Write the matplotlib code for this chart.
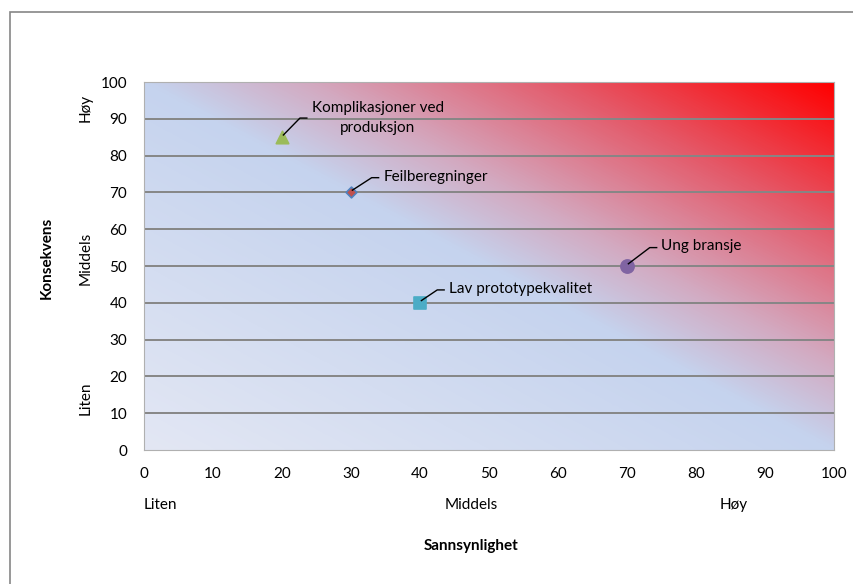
import numpy as np
import matplotlib.pyplot as plt
from matplotlib.colors import LinearSegmentedColormap
from matplotlib.patches import Rectangle

plt.rcParams['font.family'] = ['Lato', 'DejaVu Sans']

# risk data
risks = ["Komplikasjoner ved\nproduksjon", "Feilberegninger", "Lav prototypekvalitet", "Ung bransje"]
sannsynlighet = [20, 30, 40, 70]
konsekvens = [85, 70, 40, 50]
markers = ["^", "D", "s", "o"]
colors = ["#9bbb59", "#c0504d", "#4bacc6", "#8064a2"]
edges = ["#9bbb59", "#4f81bd", "#4bacc6", "#8064a2"]
sizes = [80, 30, 80, 90]
# label offsets (data units) for leader lines
label_dx = [3.6, 4.0, 3.5, 4.3]
label_dy = [5.2, 4.0, 3.5, 5.0]

ticks = list(range(0, 101, 10))
level_names = ["Liten", "Middels", "Høy"]

fig = plt.figure(figsize=(8.54, 5.84), dpi=100)
ax = fig.add_axes([144 / 854, 1 - 450 / 584, 690 / 854, 368 / 584])

# diagonal background gradient (blue -> red)
cmap = LinearSegmentedColormap.from_list(
    "risk", [(0.0, "#e3e7f4"), (0.5, "#c5d3ee"), (0.62, "#d3a9c0"),
             (0.8, "#e45a6a"), (1.0, "#ff0000")])
u, v = np.meshgrid(np.linspace(0, 1, 400), np.linspace(0, 1, 400))
ax.imshow((u + v) / 2, cmap=cmap, origin="lower", extent=[0, 100, 0, 100],
          aspect="auto", vmin=0, vmax=1, zorder=0)

ax.set_xlim(0, 100)
ax.set_ylim(0, 100)
for t in ticks[1:]:
    ax.axhline(t, color="#868686", lw=1.4, zorder=1)

for s in ax.spines.values():
    s.set_color("#b0b0b0")
    s.set_linewidth(0.8)

ax.set_xticks(ticks)
ax.set_yticks(ticks)
ax.tick_params(length=0, labelsize=11, colors="black")
ax.tick_params(axis="x", pad=12)
ax.tick_params(axis="y", pad=12)

for x, y, lab, m, c, e, sz, dx, dy in zip(sannsynlighet, konsekvens, risks, markers,
                                          colors, edges, sizes, label_dx, label_dy):
    ax.scatter(x, y, marker=m, s=sz, color=c, edgecolors=e, linewidths=1.2, zorder=3)
    ax.plot([x + 0.2, x + dx - 1, x + dx], [y + 0.6, y + dy, y + dy],
            color="black", lw=1, zorder=3)
    if "\n" in lab:
        ax.text(33.9, y + dy, lab, fontsize=11, ha="center",
                va="center", linespacing=1.55, zorder=4)
    else:
        ax.text(x + dx + 0.7, y + dy + 0.3, lab, fontsize=11, ha="left",
                va="center", zorder=4)

# level labels under x axis and beside y axis
ax.text(0, -15, level_names[0], fontsize=11, ha="left", va="center", clip_on=False)
ax.text(47.4, -15, level_names[1], fontsize=11, ha="center", va="center", clip_on=False)
ax.text(85.5, -15, level_names[2], fontsize=11, ha="center", va="center", clip_on=False)
ax.text(-8.4, 14, level_names[0], fontsize=11, rotation=90, ha="center", va="center", clip_on=False)
ax.text(-8.4, 52, level_names[1], fontsize=11, rotation=90, ha="center", va="center", clip_on=False)
ax.text(-8.4, 93, level_names[2], fontsize=11, rotation=90, ha="center", va="center", clip_on=False)

fig.text(471 / 854, 1 - 546 / 584, "Sannsynlighet", fontsize=11, fontweight="bold",
         ha="center", va="center")
fig.text(47 / 854, 1 - 258 / 584, "Konsekvens", fontsize=11, fontweight="bold",
         rotation=90, ha="center", va="center")

# chart frame
fig.patches.append(Rectangle((10 / 854, -0.1), 1.2, 1 - 12 / 584 + 0.1,
                             transform=fig.transFigure, fill=False,
                             edgecolor="#868686", lw=1.2))

fig.savefig("out.png", dpi=100)
